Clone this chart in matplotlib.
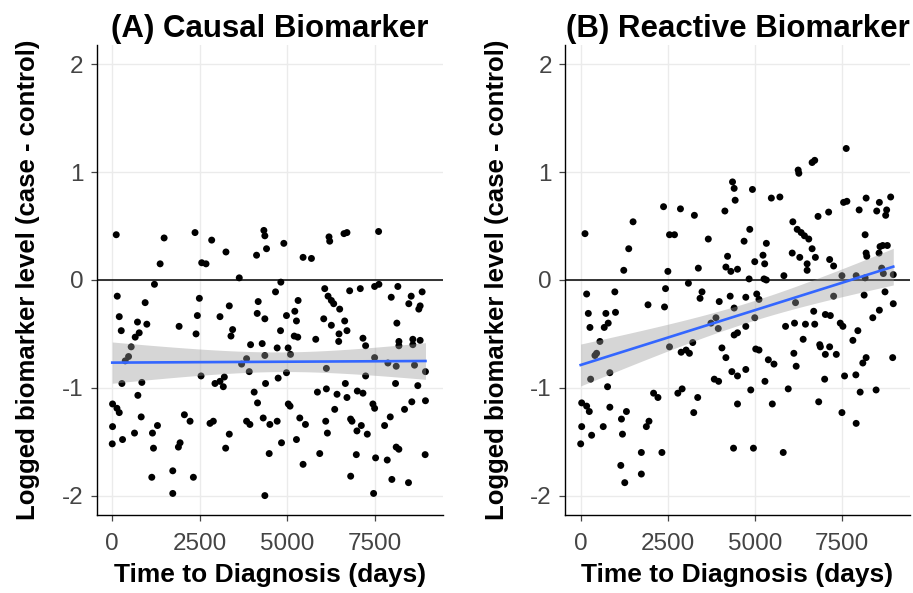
import numpy as np
import matplotlib
matplotlib.use("Agg")
import matplotlib.pyplot as plt

plt.rcParams['font.family'] = ['Liberation Sans', 'DejaVu Sans']
plt.rcParams['axes.unicode_minus'] = False

titles = ["(A) Causal Biomarker", "(B) Reactive Biomarker"]
x_label = "Time to Diagnosis (days)"
y_label = "Logged biomarker level (case - control)"
x_ticks = [0, 2500, 5000, 7500]
y_ticks = [-2, -1, 0, 1, 2]

causal_pts = [
    (114,0.42),(1482,0.39),(2365,0.44),(2841,0.37),(3249,0.26),(1368,0.15),(2556,0.16),(2679,0.15),
    (4332,0.46),(4360,0.41),(4408,0.29),(4123,0.23),(3629,0.02),(1206,-0.04),(143,-0.15),(2489,-0.17),
    (940,-0.21),(3344,-0.24),(4170,-0.20),(200,-0.34),(2432,-0.33),(3078,-0.34),(4142,-0.31),(4360,-0.36),
    (721,-0.39),(988,-0.41),(257,-0.47),(1910,-0.43),(770,-0.49),(656,-0.53),(3439,-0.46),(3392,-0.52),
    (2394,-0.50),(541,-0.62),(466,-0.71),(371,-0.75),(3952,-0.60),(4284,-0.59),(4360,-0.70),(3838,-0.73),
    (3696,-0.78),
    (4902,0.34),(5452,0.21),(5691,0.20),(6193,0.40),(6213,0.36),(6621,0.43),(6706,0.44),(7610,0.45),
    (4817,-0.02),(4665,-0.11),(6071,-0.08),(6783,-0.10),(7087,-0.08),(7496,-0.06),(7619,-0.04),(8160,-0.06),
    (8854,-0.11),(8541,-0.15),(7971,-0.16),(8473,-0.22),(8797,-0.24),(8759,-0.27),(5310,-0.19),(5216,-0.29),
    (5263,-0.38),(4978,-0.33),(6166,-0.15),(6260,-0.19),(6327,-0.22),(6498,-0.27),(6042,-0.36),(6260,-0.42),
    (6641,-0.38),(6706,-0.47),(6479,-0.50),(6470,-0.57),(5814,-0.55),(4808,-0.47),(5200,-0.52),(5300,-0.53),
    (4712,-0.63),(5025,-0.63),(5093,-0.69),(7163,-0.54),(7239,-0.61),(8132,-0.40),(8190,-0.57),(8190,-0.61),
    (8588,-0.55),(8588,-0.60),(8797,-0.56),(7496,-0.72),(7876,-0.77),(8113,-0.80),(8636,-0.79),(6118,-0.82),
    (4978,-0.86),(8949,-0.85),(7239,-0.89),(4740,-0.91),(8094,-0.96),(8730,-0.98),(5862,-1.04),(6118,-1.01),
    (6422,-1.06),(6660,-0.96),(6706,-1.09),(7002,-1.03),(7163,-1.05),(5030,-1.15),(5080,-1.17),(6356,-1.20),
    (7447,-1.15),(7496,-1.19),(8559,-1.13),(8351,-1.20),(8949,-1.12),(4503,-1.34),(4712,-1.31),(5358,-1.28),
    (5520,-1.34),(6099,-1.31),(6147,-1.42),(6810,-1.29),(6850,-1.31),(7116,-1.35),(6991,-1.40),(7287,-1.43),
    (7943,-1.27),(7781,-1.35),(5263,-1.48),(4836,-1.51),(4484,-1.61),(5928,-1.61),(5452,-1.71),(6973,-1.62),
    (7524,-1.65),(7857,-1.67),(8113,-1.55),(8189,-1.57),(8940,-1.62),(6812,-1.82),(7989,-1.85),(8464,-1.88),
    (4360,-2.00),(7467,-1.98),
    (3914,-0.85),(276,-0.96),(846,-0.95),(2537,-0.89),(2935,-0.96),(3078,-0.94),(3173,-0.99),(3202,-0.90),
    (4380,-0.96),(4055,-1.04),(4151,-1.14),(732,-1.07),(9,-1.15),(134,-1.19),(200,-1.23),(827,-1.27),
    (2061,-1.25),(2223,-1.31),(2793,-1.33),(2888,-1.31),(3838,-1.31),(3933,-1.34),(4313,-1.28),(9,-1.36),
    (0,-1.52),(294,-1.48),(636,-1.42),(1149,-1.42),(1292,-1.35),(1178,-1.56),(1890,-1.55),(1938,-1.51),
    (3344,-1.43),(3240,-1.56),(1130,-1.83),(1729,-1.77),(2318,-1.83),(1729,-1.98),
]

reactive_pts = [
    (124,0.43),(1503,0.54),(1379,0.29),(1236,0.09),(2378,0.68),(2863,0.66),(3263,0.60),(2549,0.42),
    (2692,0.42),(3662,0.38),(2502,0.08),(3376,0.11),(4138,0.64),(4357,0.91),(4404,0.85),(4433,0.74),
    (4215,0.22),(4167,0.12),(4309,0.08),(4500,0.10),(3091,-0.03),(171,-0.13),(980,-0.11),(2435,-0.08),
    (3482,-0.11),(3425,-0.17),(3976,-0.20),(4290,-0.15),(4404,-0.26),(1932,-0.23),(2406,-0.25),(219,-0.31),
    (723,-0.31),(999,-0.30),(790,-0.40),(676,-0.44),(266,-0.44),(3882,-0.35),(3739,-0.40),
    (552,-0.57),(457,-0.68),(409,-0.70),(285,-0.92),(837,-0.86),(771,-0.99),(2549,-0.62),(2883,-0.67),
    (3025,-0.65),(3120,-0.68),(3215,-0.58),(3948,-0.45),(4053,-0.63),(4167,-0.72),(4404,-0.51),(4500,-0.49),
    (4338,-0.85),(4500,-0.89),(3834,-0.92),(3958,-0.94),(4500,-1.15),(4386,-1.56),(29,-1.14),(171,-1.17),
    (247,-1.22),(837,-1.18),(1313,-1.22),(29,-1.36),(314,-1.44),(0,-1.52),(647,-1.36),(1170,-1.29),
    (1199,-1.43),(1884,-1.36),(1960,-1.31),(2092,-1.05),(2217,-1.09),(2788,-1.05),(2911,-1.01),(3358,-1.09),
    (3244,-1.23),(1741,-1.60),(2331,-1.60),(1151,-1.72),(1741,-1.80),(1265,-1.88),
    (7620,1.22),(6641,1.09),(6716,1.11),(6241,1.02),(6260,0.99),(4929,0.84),(5471,0.76),(5716,0.77),
    (6088,0.54),(6213,0.47),(6327,0.44),(6421,0.41),(6545,0.38),(6811,0.59),(7115,0.63),(7544,0.72),
    (7639,0.73),(8191,0.76),(7991,0.65),(8571,0.72),(8495,0.64),(8780,0.65),(8752,0.60),(8895,0.77),
    (4852,0.47),(4689,0.36),(5328,0.34),(5232,0.23),(5280,0.15),(4995,0.17),(6070,0.25),(6287,0.21),
    (6641,0.29),(6735,0.21),(6498,0.15),(6498,0.09),(7144,0.19),(7258,0.13),(8162,0.42),(8191,0.25),
    (8210,0.22),(8590,0.31),(8667,0.32),(8799,0.32),(8562,0.25),(8638,0.11),(8685,0.06),(8970,0.05),
    (4833,0.01),(5261,0.01),(5328,0.00),(5831,0.04),(7497,0.04),(7905,0.04),(8162,0.02),(8733,-0.11),
    (8134,-0.14),(8970,-0.22),(8571,-0.28),(8382,-0.35),(7258,-0.15),(6165,-0.21),(6687,-0.29),(7021,-0.32),
    (7164,-0.33),(4738,-0.16),(5052,-0.13),(5117,-0.18),(4995,-0.35),
    (4738,-0.43),(5879,-0.43),(6136,-0.40),(6450,-0.41),(6716,-0.41),(7449,-0.40),(7525,-0.43),(7954,-0.47),
    (6384,-0.55),(5023,-0.64),(5117,-0.65),(5385,-0.74),(5547,-0.78),(6117,-0.68),(6184,-0.80),(6859,-0.60),
    (6878,-0.62),(7144,-0.62),(7021,-0.69),(7335,-0.69),(7811,-0.56),(8191,-0.72),(8096,-0.77),(8953,-0.72),
    (4738,-0.83),(5288,-0.94),(4880,-1.02),(5499,-1.15),(5956,-1.01),(7001,-0.92),(6830,-1.13),(7572,-0.89),
    (7896,-0.88),(8020,-1.04),(8477,-1.02),(7497,-1.23),(7905,-1.33),(4957,-1.56),(5812,-1.60),
]

causal_x = np.array([p[0] for p in causal_pts], float)
causal_y = np.array([p[1] for p in causal_pts], float)
reactive_x = np.array([p[0] for p in reactive_pts], float)
reactive_y = np.array([p[1] for p in reactive_pts], float)

W, H = 913, 593
fig = plt.figure(figsize=(W / 100, H / 100), dpi=100)
fig.patch.set_facecolor('white')

axes_px = [(96.5, 443), (565, 910)]
top_px, bot_px = 45, 515

def lm_band(x, y, n_grid=80):
    n = len(x)
    b1, b0 = np.polyfit(x, y, 1)
    resid = y - (b0 + b1 * x)
    s = np.sqrt(np.sum(resid ** 2) / (n - 2))
    xbar = x.mean()
    sxx = np.sum((x - xbar) ** 2)
    xg = np.linspace(x.min(), x.max(), n_grid)
    yg = b0 + b1 * xg
    se = s * np.sqrt(1.0 / n + (xg - xbar) ** 2 / sxx)
    t = 1.972
    return xg, yg, yg - t * se, yg + t * se

datasets = [(causal_x, causal_y), (reactive_x, reactive_y)]

for i, ((l, r), (xs, ys), title) in enumerate(zip(axes_px, datasets, titles)):
    wpx = r - l
    hpx = bot_px - top_px
    ax = fig.add_axes([l / W, 1 - bot_px / H, wpx / W, hpx / H])
    ax.set_xlim(-450, 9450)
    ax.set_ylim(-2.18, 2.18)
    ax.set_xticks(x_ticks)
    ax.set_yticks(y_ticks)
    ax.set_xticklabels([str(v) for v in x_ticks])
    ax.set_yticklabels([str(v) for v in y_ticks])
    ax.grid(True, color='#EBEBEB', linewidth=1.0, zorder=0)
    ax.set_axisbelow(True)
    for side in ['top', 'right']:
        ax.spines[side].set_visible(False)
    for side in ['left', 'bottom']:
        ax.spines[side].set_color('black')
        ax.spines[side].set_linewidth(1.0)
    ax.tick_params(axis='both', length=4.5, width=0.9, color='#444444',
                   labelsize=17.5, labelcolor='#444444')
    ax.tick_params(axis='x', pad=8.5)
    ax.tick_params(axis='y', pad=5.0)
    ax.axhline(0, color='black', linewidth=1.1, zorder=1)
    ax.scatter(xs, ys, s=25, color='black', edgecolors='none', zorder=2)
    xg, yg, lo, hi = lm_band(xs, ys)
    ax.fill_between(xg, lo, hi, color='#999999', alpha=0.4, linewidth=0, zorder=3)
    ax.plot(xg, yg, color='#3366FF', linewidth=1.9, zorder=4)
    ax.set_title(title, fontsize=22.5, fontweight='bold', pad=6)
    ax.set_xlabel(x_label, fontsize=19, fontweight='bold')
    ax.set_ylabel(y_label, fontsize=18.5, fontweight='bold')
    ax.xaxis.set_label_coords(0.5, -(563 - bot_px) / hpx)
    ax.yaxis.set_label_coords(-56.5 / wpx, 0.5)

fig.savefig('out.png', dpi=100, facecolor='white')
